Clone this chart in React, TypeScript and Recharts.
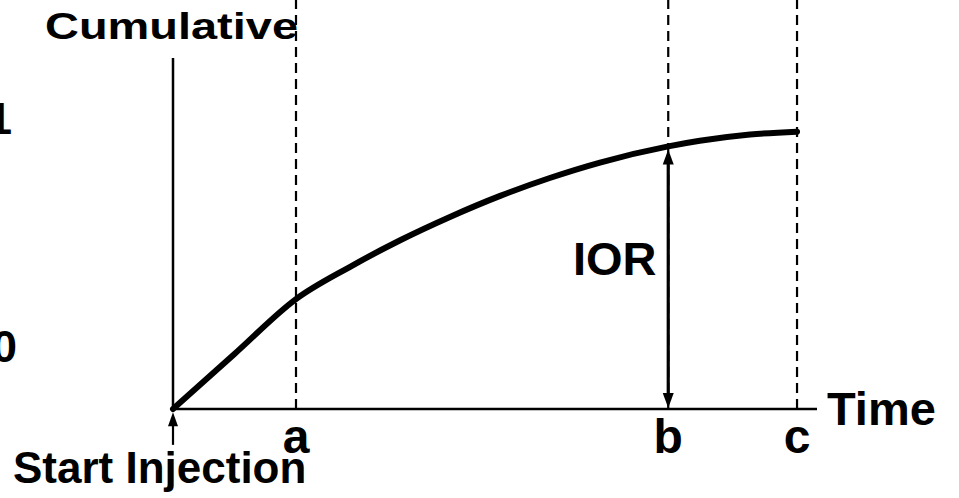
import React from 'react';
import { LineChart, Line, XAxis, YAxis, ReferenceLine } from 'recharts';

// Curve: time (0..100 axis units) vs cumulative (0..116.5 axis units)
const timePoints = [0, 9.5, 19.1, 27.5, 35.2, 43.0, 50.8, 58.5, 66.3, 76.9, 81.8, 89.6, 96.9];
const cumulativeValues = [0, 15.6, 31.3, 40.5, 48.0, 54.7, 60.7, 65.8, 70.2, 74.8, 76.4, 78.2, 79.0];

// Marker times a, b, c
const markerNames = ['a', 'b', 'c'];
const markerTimes = [19.1, 76.9, 96.9];

const X_DOMAIN = [0, 100];
const Y_DOMAIN = [0, 116.5];
const Y_AXIS_TOP = 100;
const IOR_TIME = 76.9;
const IOR_VALUE = 74.8;
const START_TIP = -0.9;
const START_TAIL = -10.5;

const data = timePoints.map((t, i) => ({ t, v: cumulativeValues[i] }));

const FONT = '"Liberation Sans", Arial, Helvetica, sans-serif';
const textStyle = { fontFamily: FONT, fontWeight: 700, fill: '#000' };

const LetterTick = (props: any) => {
  const { x, y, payload } = props;
  const idx = markerTimes.indexOf(payload.value);
  return (
    <text x={x} y={y + 44} textAnchor="middle" fontSize={48} style={textStyle}>
      {markerNames[idx]}
    </text>
  );
};

const arrowShape = (opts: { both: boolean; w: number; h: number; sw: number; topGap: number }) => (p: any) => {
  const { x1, y1, x2, y2 } = p;
  const x = x1;
  const yTop = Math.min(y1, y2) + opts.topGap;
  const yBot = Math.max(y1, y2) - 1;
  const els: any[] = [];
  els.push(
    <polygon key="t" points={`${x},${yTop} ${x - opts.w / 2},${yTop + opts.h} ${x + opts.w / 2},${yTop + opts.h}`} fill="#000" />
  );
  let lineBot = yBot;
  if (opts.both) {
    els.push(
      <polygon key="b" points={`${x},${yBot} ${x - opts.w / 2},${yBot - opts.h} ${x + opts.w / 2},${yBot - opts.h}`} fill="#000" />
    );
    lineBot = yBot - opts.h + 1;
  }
  els.push(<line key="l" x1={x} x2={x} y1={yTop + opts.h - 1} y2={lineBot} stroke="#000" strokeWidth={opts.sw} />);
  return <g>{els}</g>;
};

export default function App() {
  return (
    <div style={{ position: 'absolute', left: 0, top: 0, width: 959, height: 498, background: '#fff' }}>
      <LineChart width={959} height={498} data={data} margin={{ top: 0, right: 142, bottom: 88, left: 173 }}>
        <XAxis
          dataKey="t"
          type="number"
          domain={X_DOMAIN}
          height={1}
          ticks={markerTimes}
          interval={0}
          tickLine={false}
          tickSize={0}
          tickMargin={0}
          axisLine={{ stroke: '#000', strokeWidth: 2.5 }}
          tick={LetterTick}
        />
        <YAxis type="number" domain={Y_DOMAIN} hide />
        <ReferenceLine
          segment={[{ x: 0, y: 0 }, { x: 0, y: Y_AXIS_TOP }]}
          stroke="#000"
          strokeWidth={2.5}
        />
        {markerTimes.map((mt) => (
          <ReferenceLine key={mt} x={mt} stroke="#000" strokeWidth={2.2} strokeDasharray="10 6" />
        ))}
        <ReferenceLine
          segment={[{ x: IOR_TIME, y: 0 }, { x: IOR_TIME, y: IOR_VALUE }]}
          ifOverflow="visible"
          shape={arrowShape({ both: true, w: 11, h: 15, sw: 3.2, topGap: 3 })}
        />
        <ReferenceLine
          segment={[{ x: 0, y: START_TAIL }, { x: 0, y: START_TIP }]}
          ifOverflow="visible"
          shape={arrowShape({ both: false, w: 10, h: 14, sw: 2.2, topGap: 0 })}
        />
        <Line
          dataKey="v"
          type="monotone"
          stroke="#000"
          strokeWidth={6}
          strokeLinecap="round"
          strokeLinejoin="round"
          dot={false}
          activeDot={false}
          isAnimationActive={false}
        />
        <g>
          <text x={45} y={39} fontSize={37} textLength={253} lengthAdjust="spacingAndGlyphs" style={textStyle}>Cumulative</text>
          <text x={-13} y={134} fontSize={45} style={textStyle}>1</text>
          <text x={-8} y={362} fontSize={45} style={textStyle}>0</text>
          <text x={573} y={275} fontSize={47} style={textStyle}>IOR</text>
          <text x={827} y={425} fontSize={47} style={textStyle}>Time</text>
          <text x={13} y={483} fontSize={44} style={textStyle}>Start Injection</text>
        </g>
      </LineChart>
    </div>
  );
}
